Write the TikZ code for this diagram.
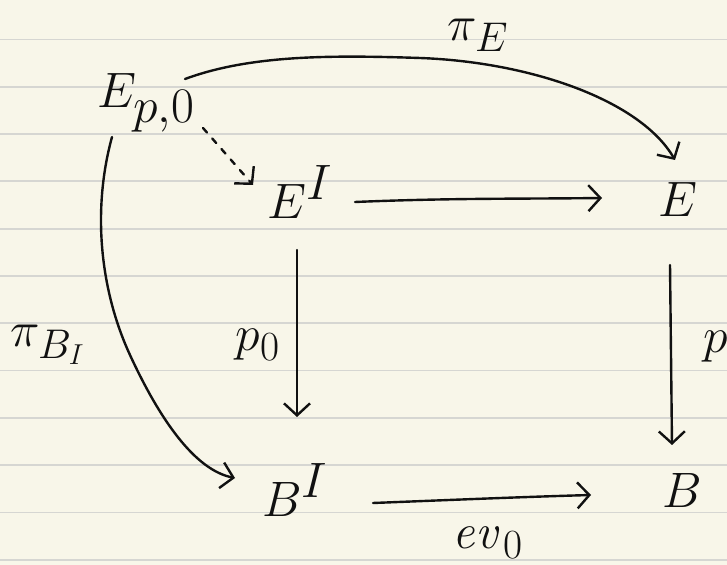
\documentclass[tikz,border=0pt]{standalone}
\usetikzlibrary{arrows.meta,calc}
\definecolor{paper}{RGB}{248,246,233}
\definecolor{rulecol}{RGB}{214,214,210}
\definecolor{ink}{RGB}{17,17,17}
\begin{document}
\begin{tikzpicture}[x=0.5pt,y=-0.5pt,
  obj/.style={inner sep=0pt, text=ink, font=\fontsize{33}{35}\selectfont},
  bigobj/.style={obj, font=\fontsize{40}{42}\selectfont},
  lbl/.style={inner sep=0pt, text=ink, font=\fontsize{28}{30}\selectfont},
  arr/.style={draw=ink, line width=1.2pt, line cap=round, line join=round,
    -{Straight Barb[length=6pt,width=13pt,line width=1.2pt]}},
  dotted arr/.style={arr, dash pattern=on 3pt off 4pt},
  ruling/.style={draw=rulecol, line width=0.9pt}]
\fill[paper] (0,0) rectangle (727,565);
\useasboundingbox (0,0) rectangle (727,565);
\foreach \k in {0,...,11} \draw[ruling] (0,{39.5+47.3*\k}) -- (727,{39.5+47.3*\k});

% objects
\node[obj] (Ep0) at (146,103) {$E_{p,0}$};
\node[obj] (EI) at (300,192) {$E^{I}$};
\node[obj] (E) at (678,200) {$E$};
\node[bigobj] (BI) at (295,490) {$B^{I}$};
\node[bigobj] (B) at (682,490) {$B$};

% labels
\node[lbl] (lpiE) at (478,35) {$\pi_E$};
\node[lbl] (lp0) at (258,345) {$p_0$};
\node[lbl] (lp) at (716,347) {$p$};
\node[lbl] (lev) at (488,543) {$\mathit{ev}_0$};
\node[lbl] (lpiB) at (48,345) {$\pi_{B_I}$};

% connectors
\draw[arr] ($(Ep0)+(39,-24)$) .. controls (250,55) and (330,55) .. (420,58)
  .. controls (530,62) and (640,100) .. ($(E)+(-3,-40)$);
\draw[dotted arr] ($(Ep0)+(57,25)$) -- ($(EI)+(-47,-7)$);
\draw[arr] ($(Ep0)+(-34,34)$) .. controls (92,210) and (100,290) .. (130,355)
  .. controls (160,420) and (195,470) .. ($(BI)+(-60,-12)$);
\draw[arr] ($(EI)+(55,10)$) .. controls (450,198) and (520,199) .. ($(E)+(-76,-2)$);
\draw[arr] ($(EI)+(-3,58)$) -- ($(BI)+(2,-73)$);
\draw[arr] ($(E)+(-8,65)$) -- ($(B)+(-10,-45)$);
\draw[arr] ($(BI)+(78,13)$) .. controls (450,500) and (520,497) .. ($(B)+(-91,5)$);
\end{tikzpicture}
\end{document}
